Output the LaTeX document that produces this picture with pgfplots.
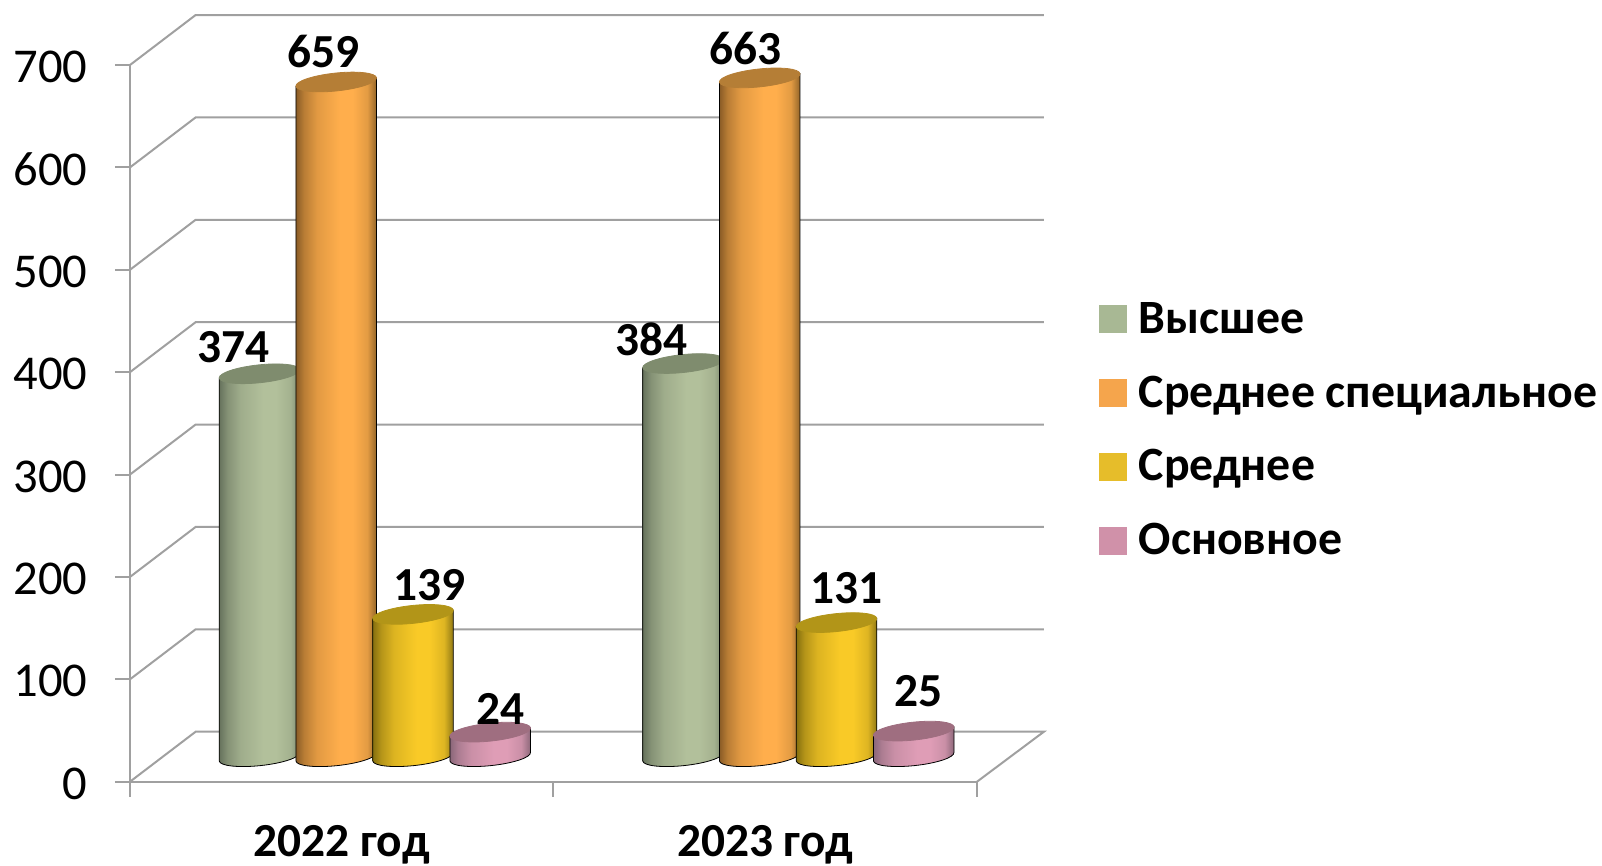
\documentclass[border=0pt]{standalone}
\usepackage{fontspec}
\setmainfont{Carlito}
\usepackage{pgfplots}
\pgfplotsset{compat=1.18}
\usepackage{pgfplotstable}
\definecolor{gridc}{HTML}{A0A0A0}
\definecolor{g0}{HTML}{66725C}\definecolor{g1}{HTML}{B2C09B}\definecolor{g2}{HTML}{78846A}
\definecolor{o0}{HTML}{8A5C26}\definecolor{o1}{HTML}{FFAE4C}\definecolor{o2}{HTML}{8F6328}
\definecolor{y0}{HTML}{86700F}\definecolor{y1}{HTML}{F9CA27}\definecolor{y2}{HTML}{8D7614}
\definecolor{p0}{HTML}{8A6779}\definecolor{p1}{HTML}{DF9DB6}\definecolor{p2}{HTML}{8A6678}
\definecolor{gt}{HTML}{7F8C6E}\definecolor{ot}{HTML}{B57E36}\definecolor{yt}{HTML}{B29518}\definecolor{pt}{HTML}{9F6E80}
\definecolor{gl}{HTML}{A8B894}\definecolor{ol}{HTML}{F5A54C}\definecolor{yl}{HTML}{E6BD2A}\definecolor{pl}{HTML}{D091A9}
\newcommand\mksh[4]{\pgfdeclarehorizontalshading{#1}{100bp}{color(0bp)=(#2);color(25bp)=(#2);color(30bp)=(#3!40!#2);color(38bp)=(#3!75!#2);color(52bp)=(#3);color(60bp)=(#3);color(69bp)=(#3!75!#4);color(75bp)=(#4);color(100bp)=(#4)}}
\mksh{shg}{g0}{g1}{g2}\mksh{sho}{o0}{o1}{o2}\mksh{shy}{y0}{y1}{y2}\mksh{shp}{p0}{p1}{p2}
% a cylinder whose height is the point's value; the top centre lies half the depth behind the front plane
\newcommand\defcyl[3]{\pgfdeclareplotmark{#1}{%
  \pgfmathsetmacro\by{12.5-\val*0.51195}%
  \path[shading=#2]
    (36.57pt,14.617pt) -- (36.57pt,\by pt+2.117pt)
    .. controls (36.828pt,\by pt-0.338pt) and (28.017pt,\by pt-3.276pt) .. (16.897pt,\by pt-4.445pt)
    .. controls (5.777pt,\by pt-5.614pt) and (-3.452pt,\by pt-4.572pt) .. (-3.71pt,\by pt-2.117pt)
    -- (-3.71pt,10.383pt) -- cycle;
  \fill[#3]
    (36.57pt,14.617pt)
    .. controls (36.312pt,17.072pt) and (27.083pt,18.114pt) .. (15.963pt,16.945pt)
    .. controls (4.843pt,15.776pt) and (-3.968pt,12.838pt) .. (-3.71pt,10.383pt)
    .. controls (-3.452pt,7.928pt) and (5.777pt,6.886pt) .. (16.897pt,8.055pt)
    .. controls (28.017pt,9.224pt) and (36.828pt,12.162pt) .. (36.57pt,14.617pt) -- cycle;
  }}
\defcyl{cg}{shg}{gt}\defcyl{co}{sho}{ot}\defcyl{cy}{shy}{yt}\defcyl{cp}{shp}{pt}
\pgfplotsset{
  cylinder plot/.style={only marks,scatter,
    visualization depends on={y \as \val},
    scatter/@pre marker code/.code={},scatter/@post marker code/.code={}},
  sq/.style={legend image code/.code={\fill[#1] (0pt,-4.75pt) rectangle (13.5pt,8.75pt);\path[draw=none,fill=none] (19.5pt,0pt) circle[radius=0pt];}},
  wall/.style={gridc,line width=1pt,forget plot,mark=none},
}
\begin{document}
\begin{tikzpicture}
\useasboundingbox (-65pt,-42.15pt) rectangle (736pt,390.85pt);
\begin{axis}[
  scale only axis,width=423.5pt,height=358.35pt,
  xmin=0,xmax=2,ymin=0,ymax=700,clip=false,
  axis y line*=left,axis x line*=bottom,
  axis line style={gridc,line width=1pt},
  tick style={gridc,line width=1pt},
  tick align=outside,major tick length=7.5pt,
  /pgf/number format/assume math mode=true,
  ytick={0,100,...,700},
  yticklabel style={font=\fontsize{24.3}{24.3}\selectfont,inner sep=0pt,xshift=-13.5pt,yshift=-1pt},
  xtick={0,1,2},xticklabels={,,},
  extra x ticks={0.5,1.5},
  extra x tick labels={2022 год,2023 год},
  extra x tick style={major tick length=0pt,
    xticklabel style={font=\fontsize{23.7}{23.7}\selectfont\bfseries,inner sep=0pt,anchor=center,yshift=-31.3pt}},
  legend cell align=left,
  legend style={at={(1.144,0.668)},anchor=north west,draw=none,fill=none,inner sep=0pt,
    font=\fontsize{23.9}{23.9}\selectfont\bfseries,row sep=16.85pt,
    nodes={text height=15pt,text depth=5pt,inner sep=0pt,outer sep=0pt}},
]
% back wall and floor
\addplot[wall] coordinates {(0,0) (0.155,48.83) (2.158,48.83) (2,0)};
\addplot[wall] coordinates {(0,100) (0.155,148.83) (2.158,148.83)};
\addplot[wall] coordinates {(0,200) (0.155,248.83) (2.158,248.83)};
\addplot[wall] coordinates {(0,300) (0.155,348.83) (2.158,348.83)};
\addplot[wall] coordinates {(0,400) (0.155,448.83) (2.158,448.83)};
\addplot[wall] coordinates {(0,500) (0.155,548.83) (2.158,548.83)};
\addplot[wall] coordinates {(0,600) (0.155,648.83) (2.158,648.83)};
\addplot[wall] coordinates {(0,700) (0.155,748.83) (2.158,748.83)};
% series
\addplot[cylinder plot,mark=cg,sq=gl] table {
x y
0.2282 374
1.2282 384
};
\addlegendentry{Высшее}
\addplot[cylinder plot,mark=co,sq=ol] table {
x y
0.4093 659
1.4093 663
};
\addlegendentry{Среднее специальное}
\addplot[cylinder plot,mark=cy,sq=yl] table {
x y
0.5907 139
1.5907 131
};
\addlegendentry{Среднее}
\addplot[cylinder plot,mark=cp,sq=pl] table {
x y
0.7730 24
1.7730 25
};
\addlegendentry{Основное}
% data labels
\addplot[draw=none,mark=none,forget plot,point meta=y,
  visualization depends on={\thisrow{dx} \as \dx},
  visualization depends on={\thisrow{dy} \as \dy},
  nodes near coords={\pgfmathprintnumber{\pgfplotspointmeta}},
  nodes near coords style={anchor=center,inner sep=0pt,
    font=\fontsize{23.7}{23.7}\selectfont\bfseries,text=black,
    xshift=\dx*0.5pt,yshift=\dy*0.5pt}] table {
x y dx dy
0.2282 374 6.4 52
0.4093 659 19.7 55
0.5907 139 49.3 54
0.7730 24 43 48
1.2282 384 1 49.5
1.4093 663 19 54
1.5907 131 43 59
1.7730 25 37.6 65
};
\end{axis}
\end{tikzpicture}
\end{document}
